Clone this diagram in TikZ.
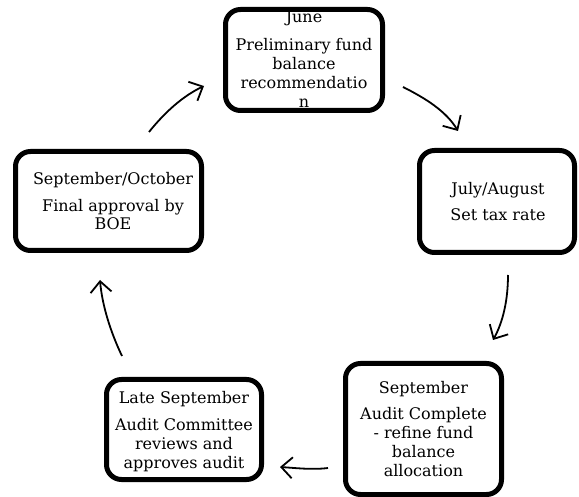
\documentclass[tikz,border=0pt]{standalone}
\usepackage{fontspec}
\setmainfont{DejaVu Serif}
\usetikzlibrary{arrows.meta}
\begin{document}
\begin{tikzpicture}[x=1pt,y=-1pt,
  stagebox/.style={draw=black, line width=5pt, rounded corners=15pt, fill=none, inner sep=0pt},
  txt/.style={anchor=base, inner sep=0pt, font=\fontsize{16pt}{18pt}\selectfont, text=black},
  flow/.style={line width=1.8pt, -{Straight Barb[length=11pt,width=21pt,line width=1.8pt]}}]
\useasboundingbox (0,0) rectangle (579,497);
% boxes
\node[stagebox, minimum width=157pt, minimum height=101pt] (june) at (304,60) {};
\node[stagebox, minimum width=155pt, minimum height=102pt] (july) at (497,201.5) {};
\node[stagebox, minimum width=186pt, minimum height=99pt] (sepoct) at (108.5,201) {};
\node[stagebox, minimum width=155pt, minimum height=100pt] (late) at (184,429.5) {};
\node[stagebox, minimum width=156pt, minimum height=131pt] (sept) at (423.5,429) {};
% June text
\node[txt] (j1) at (304,23) {June};
\node[txt] (j2) at (304,51) {Preliminary fund};
\node[txt] (j3) at (304,70) {balance};
\node[txt] (j4) at (304,89) {recommendatio};
\node[txt] (j5) at (304,108) {n};
% July text
\node[txt] (k1) at (498,195) {July/August};
\node[txt] (k2) at (498,221) {Set tax rate};
% Sept/Oct text
\node[txt] (s1) at (113,185) {September/October};
\node[txt] (s2) at (113,212) {Final approval by};
\node[txt] (s3) at (113,230) {BOE};
% Late September text
\node[txt] (l1) at (184,403) {Late September};
\node[txt] (l2) at (184,430) {Audit Committee};
\node[txt] (l3) at (184,449) {reviews and};
\node[txt] (l4) at (184,468) {approves audit};
% September text
\node[txt] (p1) at (423.5,393) {September};
\node[txt] (p2) at (423.5,420) {Audit Complete};
\node[txt] (p3) at (423.5,438.7) {- refine fund};
\node[txt] (p4) at (423.5,457.4) {balance};
\node[txt] (p5) at (423.5,476) {allocation};
% arrow ends
\coordinate (a1s) at (403,87);   \coordinate (a1e) at (458,131);
\coordinate (a2s) at (508,275);  \coordinate (a2e) at (493,340);
\coordinate (a3s) at (328,468);  \coordinate (a3e) at (280,467);
\coordinate (a4s) at (122,356);  \coordinate (a4e) at (100,280);
\coordinate (a5s) at (149,132);  \coordinate (a5e) at (204,86);
\draw[flow] (a1s) .. controls (425,98) and (446,111) .. (a1e);
\draw[flow] (a2s) .. controls (508,300) and (503,322) .. (a2e);
\draw[flow] (a3s) .. controls (312,470) and (296,468) .. (a3e);
\draw[flow] (a4s) .. controls (110,331) and (102,304) .. (a4e);
\draw[flow] (a5s) .. controls (165,112) and (183,96) .. (a5e);
\end{tikzpicture}
\end{document}
